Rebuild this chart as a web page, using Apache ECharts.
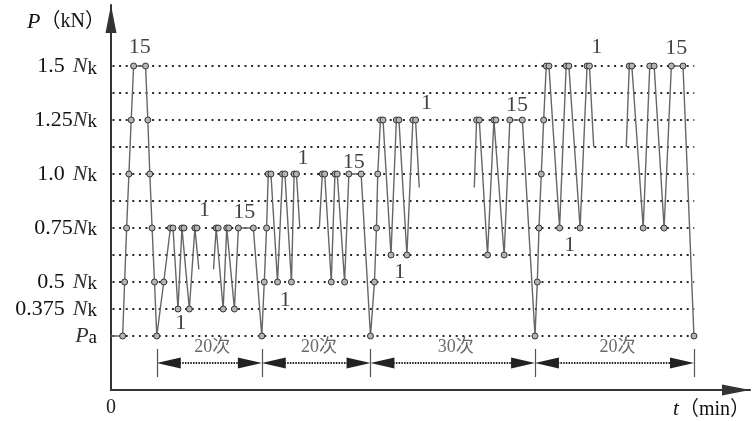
<!DOCTYPE html>
<html>
<head>
<meta charset="utf-8">
<script src="https://cdn.jsdelivr.net/npm/echarts@6/dist/echarts.min.js"></script>
<style>
html, body { margin: 0; padding: 0; background: #fff; }
#chart { width: 753px; height: 421px; }
</style>
</head>
<body>
<div id="chart"></div>
<script>
// Load levels on the schematic P axis: 0 = Pa, 1 = 0.375Nk, 2 = 0.5Nk,
// then steps of 0.125Nk up to 10 = 1.5Nk.
const levelTicks = [0, 1, 2, 4, 6, 8, 10];
const levelNames = ['Pa', '0.375 Nk', '0.5 Nk', '0.75Nk', '1.0 Nk', '1.25Nk', '1.5 Nk'];
const guideLevels = [0, 1, 2, 3, 4, 5, 6, 7, 8, 9, 10];
const guideEnd = 586;

// Loading history, traced in pieces (t, level). The ends of each piece are
// cut-off points where repeated cycles are omitted; only the final return to Pa is a real point.
const piece1T = [0, 11.7, 13.7, 15.7, 18, 20.3, 22.7, 34.7, 37, 39, 41.3, 43.7, 46,
                 53, 59.7, 62.3, 67.3, 71.3, 73.3, 78.7, 84.3, 86.3, 88.3];
const piece1P = [0, 0, 2, 4, 6, 8, 10, 10, 8, 6, 4, 2, 0,
                 2, 4, 4, 1, 4, 4, 1, 4, 4, 2.47];

const piece2T = [103, 105.7, 107.7, 112.7, 116.3, 118.3, 124, 128, 143, 151.5,
                 154, 156.3, 158, 160.7, 167.3, 172.3, 174.7, 181.3, 184, 186.3, 189.7];
const piece2P = [2.47, 4, 4, 1, 4, 4, 1, 4, 4, 0,
                 2, 4, 6, 6, 2, 6, 6, 2, 6, 6, 4];

const piece3T = [209.3, 212.3, 214.7, 221.3, 225, 227.3, 234.7, 239, 251.3, 260.7,
                 264.7, 266.7, 268, 270.7, 273.3, 281.3, 286.7, 289.3, 297.3, 303.3, 306, 309.7];
const piece3P = [4, 6, 6, 2, 6, 6, 2, 6, 6, 0,
                 2, 4, 6, 8, 8, 3, 8, 8, 3, 8, 8, 5.5];

const piece4T = [365, 367.3, 370, 378.3, 384.7, 386.7, 395, 400.7, 413.3, 426,
                 428.3, 430, 432.3, 434.7, 437.3, 440, 450.7, 457.3, 460, 471.3, 478.3, 480.7, 485];
const piece4P = [5.5, 8, 8, 3, 8, 8, 3, 8, 8, 0,
                 2, 4, 6, 8, 10, 10, 4, 10, 10, 4, 10, 10, 7];

const piece5T = [517.7, 520.7, 523.3, 534.7, 541.3, 545.7, 555.7, 563, 574.7, 585.7];
const piece5P = [7, 10, 10, 4, 10, 10, 4, 10, 10, 0];

// Cycle numbers written beside the trace
const cycleT = [29, 70, 94, 134, 175, 193, 244, 290, 317, 408, 461, 488, 568];
const cycleP = [10.7, 0.48, 4.67, 4.6, 1.33, 6.6, 6.44, 2.37, 8.63, 8.56, 3.37, 10.7, 10.67];
const cycleText = ['15', '1', '1', '15', '1', '1', '15', '1', '1', '15', '1', '1', '15'];

// Load stages (boundaries on the t axis) and their cycle counts
const stageBounds = [46, 151.5, 260.7, 426, 585.7];
const stageCounts = ['20次', '20次', '30次', '20次'];

const SERIF = '"Liberation Serif", "Times New Roman", "Noto Sans CJK SC", serif';
const CJK = '"Liberation Serif", "Noto Sans CJK SC", serif';
const ARROW_LEN = 24;

const pieces = [[piece1T, piece1P], [piece2T, piece2P], [piece3T, piece3P], [piece4T, piece4P], [piece5T, piece5P]];

function pieceSeries(tArr, pArr, isLast) {
  const data = tArr.map((t, i) => {
    const cut = i === 0 || (i === tArr.length - 1 && !isLast);
    return { value: [t, pArr[i]], symbol: cut ? 'none' : 'circle' };
  });
  return {
    type: 'line',
    data: data,
    showSymbol: true,
    symbolSize: 6,
    z: 5,
    lineStyle: { color: '#666', width: 1.4 },
    itemStyle: { color: '#b4b4b4', borderColor: '#333', borderWidth: 1 },
    emphasis: { disabled: true },
    silent: true
  };
}

function levelLabel(v) {
  const k = levelTicks.indexOf(v);
  if (k < 0) return '';
  const name = levelNames[k];
  if (name === 'Pa') return '{it|P}{sub|a}';
  const num = name.replace(/ ?Nk$/, '');
  const gap = / Nk$/.test(name) ? '{gap| }' : '';
  return '{rm|' + num + '}' + gap + '{it|N}{sub|k}';
}

const richText = {
  rm: { fontFamily: SERIF, fontSize: 22, color: '#111' },
  gap: { fontFamily: SERIF, fontSize: 22, width: 8 },
  it: { fontFamily: SERIF, fontSize: 22, fontStyle: 'italic', color: '#333' },
  sub: { fontFamily: SERIF, fontSize: 19, color: '#111', padding: [5, 0, 0, 0] }
};

const series = [];

// Dotted guide lines at every load level
series.push({
  type: 'line',
  data: [],
  silent: true,
  markLine: {
    silent: true,
    symbol: 'none',
    animation: false,
    label: { show: false },
    lineStyle: { type: [2, 4.6], color: '#2a2a2a', width: 2 },
    data: guideLevels.map(l => [{ coord: [1.5, l] }, { coord: [guideEnd, l] }])
  }
});

pieces.forEach((p, i) => series.push(pieceSeries(p[0], p[1], i === pieces.length - 1)));

// Cycle numbers
series.push({
  type: 'scatter',
  data: cycleT.map((t, i) => [t, cycleP[i], cycleText[i]]),
  symbolSize: 0,
  silent: true,
  z: 6,
  label: {
    show: true,
    position: 'inside',
    formatter: p => p.data[2],
    fontFamily: SERIF,
    fontSize: 22,
    color: '#111'
  }
});

// Stage dimension arrows (arrow tips meet the stage boundaries)
series.push({
  type: 'line',
  data: [],
  silent: true,
  markLine: {
    silent: true,
    animation: false,
    symbol: ['triangle', 'triangle'],
    symbolSize: [11, ARROW_LEN],
    label: { show: false },
    itemStyle: { color: '#000' },
    lineStyle: { type: [1.5, 1.2], color: '#222', width: 2 },
    data: stageCounts.map((c, i) => [
      { coord: [stageBounds[i] + ARROW_LEN / 2, -1.0] },
      { coord: [stageBounds[i + 1] - ARROW_LEN / 2, -1.0] }
    ])
  }
});
// Stage boundary ticks
series.push({
  type: 'line',
  data: [],
  silent: true,
  markLine: {
    silent: true,
    animation: false,
    symbol: 'none',
    label: { show: false },
    lineStyle: { type: 'solid', color: '#555', width: 1.2 },
    data: stageBounds.map(b => [{ coord: [b, -0.48] }, { coord: [b, -1.52] }])
  }
});
// Stage cycle counts
series.push({
  type: 'scatter',
  data: stageCounts.map((c, i) => [(stageBounds[i] + stageBounds[i + 1]) / 2 + 3, -0.4, c]),
  symbolSize: 0,
  silent: true,
  label: {
    show: true,
    position: 'inside',
    formatter: p => p.data[2],
    fontFamily: CJK,
    fontSize: 18,
    color: '#444'
  }
});

const option = {
  animation: false,
  backgroundColor: '#fff',
  grid: { left: 111, right: 0, top: 5, bottom: 31, containLabel: false },
  xAxis: {
    type: 'value',
    min: 0,
    max: 642,
    interval: 100,
    splitLine: { show: false },
    axisTick: { show: false },
    axisLine: {
      show: true,
      onZero: false,
      symbol: ['none', 'triangle'],
      symbolSize: [11, 28],
      symbolOffset: [0, -14],
      lineStyle: { color: '#333', width: 2 }
    },
    axisLabel: {
      formatter: v => (v === 0 ? '0' : ''),
      margin: 8,
      fontFamily: SERIF,
      fontSize: 20,
      color: '#222'
    },
    name: '{it|t}{rm|（min）}',
    nameLocation: 'end',
    nameGap: 0,
    nameTextStyle: {
      align: 'right',
      verticalAlign: 'top',
      padding: [9, 0, 0, 0],
      rich: {
        it: { fontFamily: SERIF, fontSize: 21, fontStyle: 'italic', color: '#111' },
        rm: { fontFamily: CJK, fontSize: 20, color: '#111' }
      }
    }
  },
  yAxis: {
    type: 'value',
    min: -2,
    max: 12.26,
    interval: 1,
    splitLine: { show: false },
    axisTick: { show: false },
    axisLine: {
      show: true,
      onZero: false,
      symbol: ['none', 'triangle'],
      symbolSize: [11, 28],
      symbolOffset: [0, -14],
      lineStyle: { color: '#333', width: 2 }
    },
    axisLabel: {
      formatter: levelLabel,
      margin: 14,
      rich: richText
    },
    name: '{it|P}{rm|（kN）}',
    nameLocation: 'end',
    nameGap: -17,
    nameTextStyle: {
      align: 'right',
      verticalAlign: 'middle',
      padding: [0, 6, 0, 0],
      rich: {
        it: { fontFamily: SERIF, fontSize: 22, fontStyle: 'italic', color: '#111' },
        rm: { fontFamily: CJK, fontSize: 20, color: '#111' }
      }
    }
  },
  series: series
};

const chart = echarts.init(document.getElementById('chart'), null, { renderer: 'canvas' });
chart.setOption(option);
</script>
</body>
</html>
